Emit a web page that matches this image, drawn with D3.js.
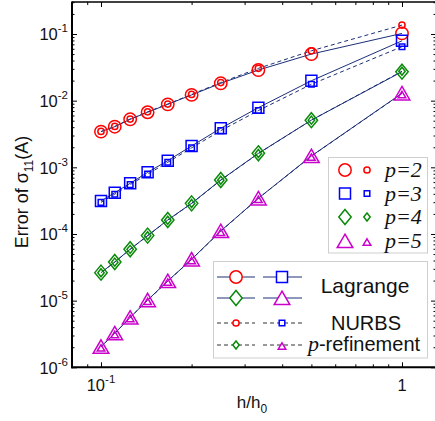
<!DOCTYPE html>
<html><head><meta charset="utf-8">
<script src="https://cdn.jsdelivr.net/npm/d3@7"></script>
<style>
html,body{margin:0;padding:0;background:#fff;}
svg{display:block;font-family:"Liberation Sans",Arial,Helvetica,sans-serif;}
</style></head>
<body>
<svg id="chart" width="435" height="421"></svg>
<script>
// ---------- data ----------
const hValues = [1, 1/2, 1/3, 1/4, 1/5, 1/6, 1/7, 1/8, 1/9, 1/10];
const lagrangeP2 = [0.102, 0.050, 0.0288, 0.0182, 0.0122, 0.0088, 0.0067, 0.00525, 0.00407, 0.00343];
const nurbsP2    = [0.136, 0.056, 0.0305, 0.0187, 0.0124, 0.0089, 0.0068, 0.0053, 0.0041, 0.00345];
const lagrangeP3 = [0.079, 0.0199, 0.00785, 0.00385, 0.00209, 0.00126, 0.00084, 0.000575, 0.000416, 0.000313];
const nurbsP3    = [0.0645, 0.0176, 0.0071, 0.00355, 0.00196, 0.00119, 0.00079, 0.00055, 0.000395, 0.000298];
const lagrangeP4 = [0.0272, 0.0051, 0.00162, 0.000645, 0.000288, 0.000162, 0.0000945, 0.000059, 0.000038, 0.0000263];
const nurbsP4    = [0.0276, 0.0051, 0.00161, 0.00064, 0.000287, 0.000161, 0.000094, 0.0000588, 0.0000378, 0.0000262];
const lagrangeP5 = [0.0129, 0.00148, 0.000343, 0.000111, 0.0000417, 0.0000197, 0.0000102, 0.0000056, 0.00000324, 0.00000204];
const nurbsP5    = [0.0128, 0.00147, 0.000342, 0.00011, 0.0000415, 0.0000196, 0.0000101, 0.0000056, 0.00000322, 0.00000203];
const yMajorTicks = [1e-6, 1e-5, 1e-4, 1e-3, 1e-2, 1e-1];
const yTickExps = ["-6", "-5", "-4", "-3", "-2", "-1"];
const xMajorTicks = [0.1, 1];
const degreeLabels = ["p=2", "p=3", "p=4", "p=5"];

// ---------- styles ----------
const colors = ["#ff0000", "#0000ff", "#0a8a0a", "#cc00cc"];
const lineColor = "#1c2f78";
const shapes = ["circle", "square", "diamond", "triangle"];
const serif = "'Liberation Serif','Times New Roman',Times,serif";

const svg = d3.select("#chart");
const L = 72, R = 436, T = 2, B = 367.3;

const x = d3.scaleLog().domain([Math.pow(10, -1.0963), Math.pow(10, 0.113)]).range([L, R]);
const y = d3.scaleLog().domain([Math.pow(10, -0.52), 1e-6]).range([T, B]);

function markerPath(shape, big) {
  if (shape === "circle") {
    const r = big ? 6.2 : 3.1;
    return `M${r},0A${r},${r} 0 1,1 ${-r},0A${r},${r} 0 1,1 ${r},0Z`;
  }
  if (shape === "square") {
    const s = big ? 5.5 : 2.8;
    return `M${-s},${-s}H${s}V${s}H${-s}Z`;
  }
  if (shape === "diamond") {
    return big ? "M0,-7.5L6.2,0L0,7.5L-6.2,0Z" : "M0,-4L3.2,0L0,4L-3.2,0Z";
  }
  return big ? "M0,-6.8L7.8,6.6L-7.8,6.6Z" : "M0,-2.2L3.8,4.2L-3.8,4.2Z";
}

// ---------- ticks (via d3 axes) ----------
function minorTicks(domain) {
  const out = [];
  const lo = Math.min(...domain), hi = Math.max(...domain);
  for (let e = -8; e <= 2; e++) for (let k = 2; k <= 9; k++) {
    const v = k * Math.pow(10, e);
    if (v > lo && v < hi) out.push(v);
  }
  return out;
}
const xMinor = minorTicks(x.domain());
const yMinor = minorTicks(y.domain());

function addAxis(axisFn, scale, vals, size, transform) {
  const g = svg.append("g").attr("transform", transform)
    .call(axisFn(scale).tickValues(vals).tickSize(size).tickFormat(""));
  g.select(".domain").remove();
  g.selectAll(".tick line").attr("stroke", "#000").attr("stroke-width", 1);
}
addAxis(d3.axisBottom, x, xMajorTicks, -5, `translate(0,${B})`);
addAxis(d3.axisBottom, x, xMinor, -3, `translate(0,${B})`);
addAxis(d3.axisTop, x, xMajorTicks, -5, `translate(0,${T})`);
addAxis(d3.axisTop, x, xMinor, -3, `translate(0,${T})`);
addAxis(d3.axisLeft, y, yMajorTicks, -5, `translate(${L},0)`);
addAxis(d3.axisLeft, y, yMinor, -2.5, `translate(${L},0)`);
addAxis(d3.axisRight, y, yMajorTicks, -5, `translate(${R},0)`);
addAxis(d3.axisRight, y, yMinor, -2.5, `translate(${R},0)`);

// frame
svg.append("line").attr("x1", L).attr("x2", R).attr("y1", T).attr("y2", T).attr("stroke", "#000").attr("stroke-width", 1.3);
svg.append("line").attr("x1", R).attr("x2", R).attr("y1", T).attr("y2", B).attr("stroke", "#000").attr("stroke-width", 1.3);
svg.append("line").attr("x1", L).attr("x2", L).attr("y1", T - 0.6).attr("y2", B + 1).attr("stroke", "#000").attr("stroke-width", 2);
svg.append("line").attr("x1", L - 1).attr("x2", R).attr("y1", B).attr("y2", B).attr("stroke", "#000").attr("stroke-width", 2);

// y tick labels
yMajorTicks.forEach((v, i) => {
  const t = svg.append("text").attr("x", 68).attr("y", y(v) + 6.5)
    .attr("text-anchor", "end").attr("font-size", 16.5).attr("fill", "#111");
  t.append("tspan").text("10");
  t.append("tspan").attr("dy", -8).attr("font-size", 11.5).text(yTickExps[i]);
});
// x tick labels
{
  const t = svg.append("text").attr("x", x(0.1)).attr("y", 391)
    .attr("text-anchor", "middle").attr("font-size", 16.5).attr("fill", "#111");
  t.append("tspan").text("10");
  t.append("tspan").attr("dy", -8).attr("font-size", 11.5).text("-1");
  svg.append("text").attr("x", x(1)).attr("y", 391).attr("text-anchor", "middle")
    .attr("font-size", 16.5).attr("fill", "#111").text("1");
}
// axis labels
{
  const t = svg.append("text").attr("x", 252).attr("y", 408).attr("text-anchor", "middle")
    .attr("font-size", 17).attr("fill", "#111");
  t.append("tspan").text("h/h");
  t.append("tspan").attr("dy", 5).attr("font-size", 12).text("0");
}
{
  const t = svg.append("text").attr("transform", "translate(28,192) rotate(-90)")
    .attr("text-anchor", "middle").attr("font-size", 18).attr("fill", "#111");
  t.append("tspan").text("Error of ");
  t.append("tspan").text("σ");
  t.append("tspan").attr("dy", 5).attr("font-size", 12).text("11");
  t.append("tspan").attr("dy", -5).text("(A)");
}

// ---------- series ----------
const lagrange = [lagrangeP2, lagrangeP3, lagrangeP4, lagrangeP5];
const nurbs = [nurbsP2, nurbsP3, nurbsP4, nurbsP5];
const line = d3.line().x(d => x(d[0])).y(d => y(d[1]));
const plot = svg.append("g");

lagrange.forEach((vals) => {
  plot.append("path").attr("d", line(hValues.map((h, j) => [h, vals[j]])))
    .attr("fill", "none").attr("stroke", lineColor).attr("stroke-width", 1);
});
nurbs.forEach((vals) => {
  plot.append("path").attr("d", line(hValues.map((h, j) => [h, vals[j]])))
    .attr("fill", "none").attr("stroke", lineColor).attr("stroke-width", 1)
    .attr("stroke-dasharray", "4,3");
});
function drawMarkers(vals, i, big) {
  plot.selectAll(null).data(hValues.map((h, j) => [h, vals[j]])).enter()
    .append("path").attr("d", markerPath(shapes[i], big))
    .attr("transform", d => `translate(${x(d[0])},${y(d[1])})`)
    .attr("fill", "none").attr("stroke", colors[i]).attr("stroke-width", 1.5);
}
lagrange.forEach((vals, i) => drawMarkers(vals, i, true));
nurbs.forEach((vals, i) => drawMarkers(vals, i, false));

// ---------- legend 1 ----------
const leg1 = svg.append("g");
leg1.append("rect").attr("x", 328.5).attr("y", 157.5).attr("width", 99).attr("height", 95.5)
  .attr("fill", "#fff").attr("stroke", "#cfcfcf").attr("stroke-width", 1);
const leg1Rows = [170, 193.5, 217, 241];
degreeLabels.forEach((lab, i) => {
  const yy = leg1Rows[i];
  leg1.append("path").attr("d", markerPath(shapes[i], true)).attr("transform", `translate(345,${yy})`)
    .attr("fill", "none").attr("stroke", colors[i]).attr("stroke-width", 1.5);
  leg1.append("path").attr("d", markerPath(shapes[i], false)).attr("transform", `translate(367,${yy})`)
    .attr("fill", "none").attr("stroke", colors[i]).attr("stroke-width", 1.5);
  leg1.append("text").attr("x", 385).attr("y", yy + 7)
    .style("font-family", serif).style("font-style", "italic")
    .attr("font-size", 22).attr("fill", "#111").text(lab);
});

// ---------- legend 2 ----------
const leg2 = svg.append("g");
leg2.append("rect").attr("x", 213.5).attr("y", 261.5).attr("width", 214).attr("height", 96.5)
  .attr("fill", "#fff").attr("stroke", "#cfcfcf").attr("stroke-width", 1);
const leg2Rows = [277, 298, 323, 345];
const leg2Cols = [[217, 255, 236], [263, 302, 282]];
[0, 1].forEach(r => {
  [0, 1].forEach(c => {
    const si = r * 2 + c;
    const yy = leg2Rows[r];
    const col = leg2Cols[c];
    leg2.append("line").attr("x1", col[0]).attr("x2", col[1]).attr("y1", yy).attr("y2", yy)
      .attr("stroke", lineColor).attr("stroke-width", 1);
    leg2.append("path").attr("d", markerPath(shapes[si], true)).attr("transform", `translate(${col[2]},${yy})`)
      .attr("fill", "#fff").attr("stroke", colors[si]).attr("stroke-width", 1.5);
    const yn = leg2Rows[r + 2];
    leg2.append("line").attr("x1", col[0]).attr("x2", col[1]).attr("y1", yn).attr("y2", yn)
      .attr("stroke", "#333").attr("stroke-width", 1).attr("stroke-dasharray", "4,3");
    leg2.append("path").attr("d", markerPath(shapes[si], false)).attr("transform", `translate(${col[2]},${yn})`)
      .attr("fill", "#fff").attr("stroke", colors[si]).attr("stroke-width", 1.5);
  });
});
leg2.append("text").attr("x", 365).attr("y", 293).attr("text-anchor", "middle")
  .attr("font-size", 21).attr("fill", "#111").text("Lagrange");
leg2.append("text").attr("x", 366).attr("y", 330).attr("text-anchor", "middle")
  .attr("font-size", 20).attr("fill", "#111").text("NURBS");
{
  const t = leg2.append("text").attr("x", 364).attr("y", 351).attr("text-anchor", "middle")
    .attr("font-size", 20).attr("fill", "#111");
  t.append("tspan").style("font-family", serif).style("font-style", "italic").attr("font-size", 22).text("p");
  t.append("tspan").text("-refinement");
}
</script>
</body></html>
